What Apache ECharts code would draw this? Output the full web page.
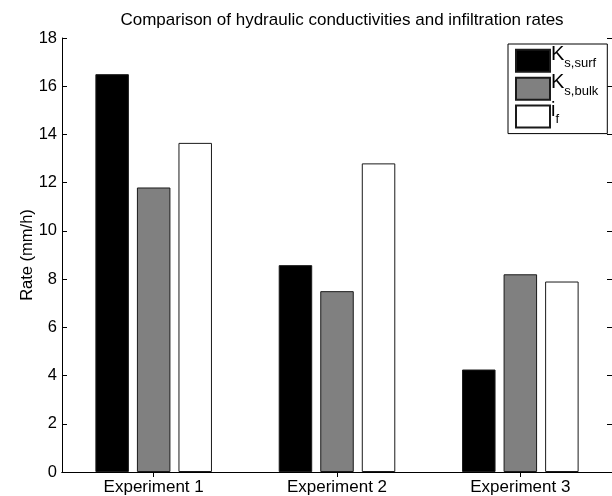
<!DOCTYPE html>
<html>
<head>
<meta charset="utf-8">
<script src="https://cdn.jsdelivr.net/npm/echarts@6/dist/echarts.min.js"></script>
<style>
  html, body { margin: 0; padding: 0; background: #fff; }
  #chart { width: 612px; height: 496px; }
</style>
</head>
<body>
<div id="chart"></div>
<script>
const categories = ['Experiment 1', 'Experiment 2', 'Experiment 3']
const seriesNames = ['Ks,surf', 'Ks,bulk', 'if']
const legendMain = ['K', 'K', 'i']
const legendSub = ['s,surf', 's,bulk', 'f']
const ksSurf = [16.5, 8.58, 4.25]
const ksBulk = [11.8, 7.5, 8.2]
const infRate = [13.65, 12.8, 7.9]
const yTicks = { min: 0, max: 18, interval: 2 }

const fillColors = ['#000000', '#808080', '#ffffff']
const font = 'Liberation Sans, Arial, Helvetica, sans-serif'

const chart = echarts.init(document.getElementById('chart'), null, { renderer: 'canvas' })

const values = [ksSurf, ksBulk, infRate]
const series = values.map((data, idx) => ({
  name: seriesNames[idx],
  type: 'bar',
  data,
  barWidth: 33.5,
  barGap: '24%',
  itemStyle: {
    color: fillColors[idx],
    borderColor: '#1a1a1a',
    borderWidth: 1,
  },
  emphasis: { disabled: true },
}))

const axisLine = { show: true, lineStyle: { color: '#000', width: 1 } }
const innerTick = { show: true, inside: true, length: 5, lineStyle: { color: '#000' } }

chart.setOption({
  animation: false,
  backgroundColor: '#fff',
  title: {
    text: 'Comparison of hydraulic conductivities and infiltration rates',
    left: 337,
    top: 7,
    textAlign: 'center',
    textStyle: { fontFamily: font, fontSize: 17, fontWeight: 'normal', color: '#000' },
  },
  legend: {
    orient: 'vertical',
    left: 508,
    top: 44,
    icon: 'rect',
    itemWidth: 34,
    itemHeight: 22,
    itemGap: -0.1,
    padding: [0.8, 9, 5, 7],
    borderColor: '#000',
    borderWidth: 1,
    backgroundColor: '#fff',
    borderRadius: 0,
    selectedMode: false,
    formatter: name => {
      const i = seriesNames.indexOf(name)
      return `{k|${legendMain[i]}}{s|${legendSub[i]}}`
    },
    textStyle: {
      color: '#000',
      fontFamily: font,
      rich: {
        k: { fontSize: 20, padding: [-5, 0, 0, -4], verticalAlign: 'top', fontFamily: font, color: '#000' },
        s: { fontSize: 13, padding: [7.4, 0, 1.6, 0], verticalAlign: 'top', fontFamily: font, color: '#000' },
      },
    },
  },
  grid: { left: 62, right: -1, top: 38, bottom: 24, containLabel: false },
  xAxis: [
    {
      type: 'category',
      data: categories,
      position: 'bottom',
      axisLine,
      axisTick: { ...innerTick, alignWithLabel: true },
      axisLabel: { color: '#000', fontFamily: font, fontSize: 17, margin: 7 },
      splitLine: { show: false },
    },
    {
      type: 'category',
      data: categories,
      position: 'top',
      axisLine,
      axisTick: { ...innerTick, alignWithLabel: true },
      axisLabel: { show: false },
      splitLine: { show: false },
    },
  ],
  yAxis: [
    {
      type: 'value',
      ...yTicks,
      position: 'left',
      name: 'Rate (mm/h)',
      nameLocation: 'middle',
      nameGap: 26,
      nameMoveOverlap: false,
      nameTextStyle: { color: '#000', fontFamily: font, fontSize: 16.5 },
      axisLine,
      axisTick: innerTick,
      axisLabel: { color: '#000', fontFamily: font, fontSize: 16.5, margin: 5 },
      splitLine: { show: false },
    },
    {
      type: 'value',
      ...yTicks,
      position: 'right',
      axisLine,
      axisTick: innerTick,
      axisLabel: { show: false },
      splitLine: { show: false },
    },
  ],
  series,
})
</script>
</body>
</html>
